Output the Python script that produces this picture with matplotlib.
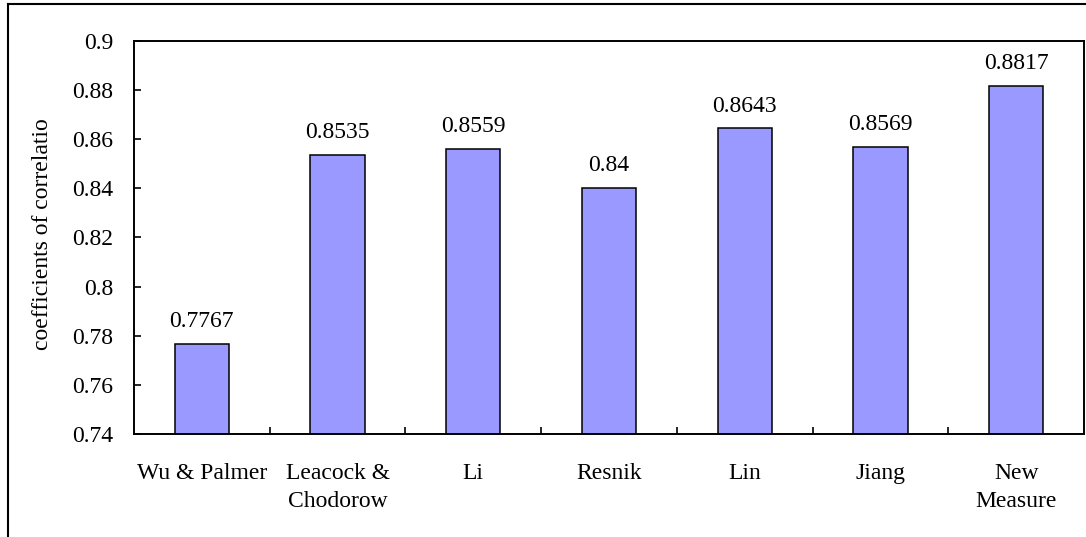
import matplotlib

matplotlib.use("Agg")
import matplotlib.pyplot as plt
from matplotlib.lines import Line2D

methods = ["Wu & Palmer", "Leacock &\nChodorow", "Li", "Resnik", "Lin", "Jiang", "New\nMeasure"]
scores = [0.7767, 0.8535, 0.8559, 0.84, 0.8643, 0.8569, 0.8817]
labels = ["0.7767", "0.8535", "0.8559", "0.84", "0.8643", "0.8569", "0.8817"]
yticks = [0.74, 0.76, 0.78, 0.80, 0.82, 0.84, 0.86, 0.88, 0.90]
ytick_labels = ["0.74", "0.76", "0.78", "0.8", "0.82", "0.84", "0.86", "0.88", "0.9"]

plt.rcParams.update({
    "font.family": "Liberation Serif",
    "font.size": 17,
})

W, H = 1086, 537
fig = plt.figure(figsize=(W / 100, H / 100), dpi=100)
fig.patch.set_facecolor("white")

# outer chart frame (only left/top edges fall inside the image)
fig.add_artist(Line2D([8 / W, 8 / W], [0, 1 - 4 / H], color="black", lw=1.5))
fig.add_artist(Line2D([8 / W, 1], [1 - 4 / H, 1 - 4 / H], color="black", lw=1.5))

ax = fig.add_axes([134 / W, 103 / H, 950 / W, 393.3 / H])
x = range(len(methods))
bars = ax.bar(x, scores, width=0.4, color="#9999FF", edgecolor="black", linewidth=1.1)

for rect, lab in zip(bars, labels):
    ax.annotate(lab, (rect.get_x() + rect.get_width() / 2, rect.get_height()),
                xytext=(0, 8.5), textcoords="offset points",
                ha="center", va="bottom", fontsize=17)

ax.set_xlim(-0.5, len(methods) - 0.5)
ax.set_ylim(0.74, 0.90)
ax.set_yticks(yticks)
ax.set_yticklabels(ytick_labels)
ax.set_xticks(list(x))
ax.set_xticklabels(methods, linespacing=1.4)
ax.set_xticks([i + 0.5 for i in range(len(methods) - 1)], minor=True)
ax.tick_params(axis="x", which="major", length=0, pad=21)
ax.tick_params(axis="x", which="minor", direction="in", length=5, width=1.2)
ax.tick_params(axis="y", direction="in", length=5, width=1.2, pad=15)
for s in ax.spines.values():
    s.set_linewidth(1.4)

fig.text(43 / W, 1 - 234 / H, "coefficients of correlatio", rotation=90,
         ha="center", va="center", fontsize=17)

fig.savefig("out.png", dpi=100)
